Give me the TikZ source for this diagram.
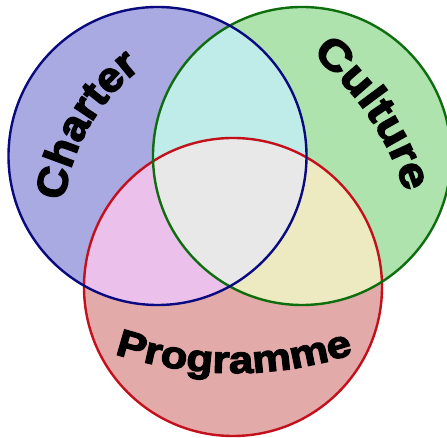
\documentclass[tikz,border=0pt]{standalone}
\usepackage{fontspec}
\usetikzlibrary{decorations.text}
\newfontfamily\heavy{Liberation Sans Bold}[FakeBold=3.5,FakeStretch=1.15]
\newfontfamily\heavynarrow{Liberation Sans Bold}[FakeBold=3.5,FakeStretch=1.05]
\definecolor{bfill}{HTML}{AAAAE2}
\definecolor{gfill}{HTML}{AEE3AE}
\definecolor{rfill}{HTML}{E3AAAA}
\definecolor{bgfill}{HTML}{BFEBE9}
\definecolor{brfill}{HTML}{EBC1EB}
\definecolor{grfill}{HTML}{EDEAC2}
\definecolor{allfill}{HTML}{E8E8E8}
\definecolor{bline}{HTML}{0A0A80}
\definecolor{gline}{HTML}{0E6E0E}
\definecolor{rline}{HTML}{C3101A}
\tikzset{
  ring/.style={line width=2.4pt},
  curvedlabel/.style={decorate,decoration={text along path,text align=center,text={#1}}}
}
\begin{document}
\begin{tikzpicture}[x=1pt,y=1pt]
\useasboundingbox (0,0) rectangle (447,438);
\fill[white] (0,0) rectangle (447,438);
\coordinate (B) at (157.5,282);
\coordinate (G) at (302,282);
\coordinate (R) at (233,151);
\def\rad{149}
% base fills
\fill[bfill] (B) circle (\rad);
\fill[gfill] (G) circle (\rad);
\fill[rfill] (R) circle (\rad);
% pairwise overlaps
\begin{scope}\clip (B) circle (\rad); \fill[bgfill] (G) circle (\rad); \end{scope}
\begin{scope}\clip (B) circle (\rad); \fill[brfill] (R) circle (\rad); \end{scope}
\begin{scope}\clip (G) circle (\rad); \fill[grfill] (R) circle (\rad); \end{scope}
\begin{scope}\clip (B) circle (\rad); \clip (G) circle (\rad); \fill[allfill] (R) circle (\rad); \end{scope}
% outlines
\draw[ring,rline] (R) circle (\rad);
\draw[ring,gline] (G) circle (\rad);
\draw[ring,bline] (B) circle (\rad);
% curved labels
\coordinate (OC) at (257,214);
\coordinate (OU) at (129,160);
\coordinate (OP) at (234,445);
\path[curvedlabel={|\heavynarrow\fontsize{42}{42}\selectfont|Charter}]
  ([shift={(192:194)}]OC) arc[start angle=192,end angle=108,radius=194];
\path[curvedlabel={|\heavy\fontsize{42}{42}\selectfont|Culture}]
  ([shift={(66:289)}]OU) arc[start angle=66,end angle=2,radius=289];
\path[curvedlabel={|\heavy\fontsize{38}{38}\selectfont|Programme}]
  ([shift={(250:380)}]OP) arc[start angle=250,end angle=290,radius=380];
\end{tikzpicture}
\end{document}
